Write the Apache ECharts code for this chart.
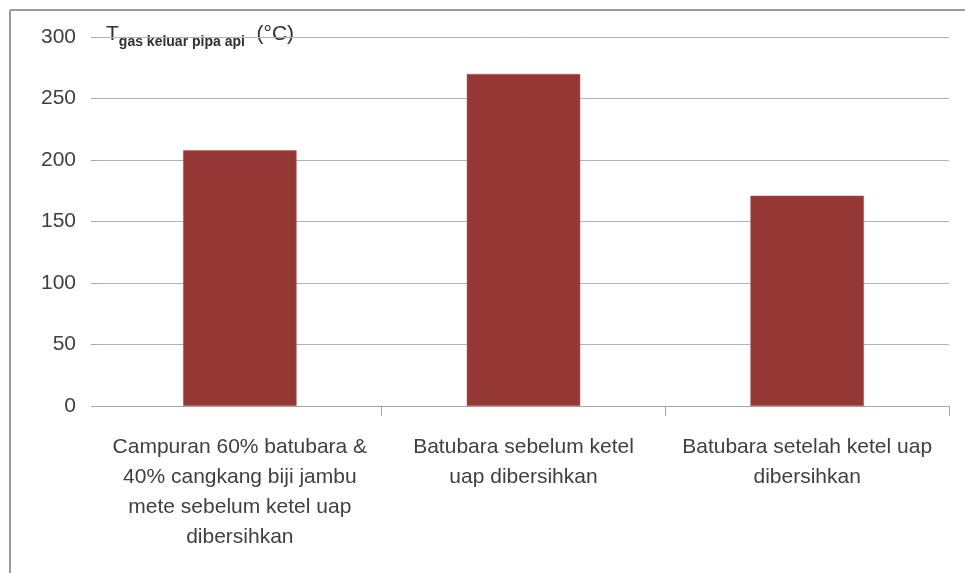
<!DOCTYPE html>
<html>
<head>
<meta charset="utf-8">
<script src="https://cdn.jsdelivr.net/npm/echarts@6/dist/echarts.min.js"></script>
<style>
html, body { margin: 0; padding: 0; background: #fff; }
#chart { width: 965px; height: 573px; }
</style>
</head>
<body>
<div id="chart"></div>
<script>
// kategori bahan bakar (baris dipecah seperti di gambar)
var categories = [
    'Campuran 60% batubara &\n40% cangkang biji jambu\nmete sebelum ketel uap\ndibersihkan',
    'Batubara sebelum ketel\nuap dibersihkan',
    'Batubara setelah ketel uap\ndibersihkan'
];
// suhu gas keluar pipa api (°C)
var suhuGas = [208, 270, 171];
var yTicks = [0, 50, 100, 150, 200, 250, 300];

var chart = echarts.init(document.getElementById('chart'));
var option = {
    backgroundColor: '#ffffff',
    animation: false,
    grid: {
        left: 98,
        right: 16,
        top: 37,
        bottom: 167
    },
    xAxis: {
        type: 'category',
        data: categories,
        axisLine: { lineStyle: { color: '#a6a6a6', width: 1 } },
        axisTick: {
            show: true,
            length: 10,
            lineStyle: { color: '#a6a6a6' },
            interval: function (index) { return index > 0; }
        },
        axisLabel: {
            interval: 0,
            hideOverlap: false,
            color: '#404040',
            fontFamily: 'Liberation Sans',
            fontSize: 21,
            lineHeight: 30,
            margin: 26
        }
    },
    yAxis: {
        type: 'value',
        min: yTicks[0],
        max: yTicks[yTicks.length - 1],
        interval: 50,
        axisLine: { show: false },
        axisTick: { show: true, length: 7, lineStyle: { color: '#a6a6a6' } },
        splitLine: { lineStyle: { color: '#b3b3b3', width: 1 } },
        axisLabel: {
            color: '#404040',
            fontFamily: 'Liberation Sans',
            fontSize: 21,
            margin: 22
        }
    },
    series: [{
        type: 'bar',
        data: suhuGas,
        barWidth: '40%',
        itemStyle: { color: '#953735', borderColor: '#b05a58', borderWidth: 0.5 }
    }],
    graphic: [
        {
            type: 'line',
            shape: { x1: 10, y1: 10, x2: 965, y2: 10 },
            style: { stroke: '#9a9a9a', lineWidth: 2 }
        },
        {
            type: 'line',
            shape: { x1: 10, y1: 10, x2: 10, y2: 573 },
            style: { stroke: '#9a9a9a', lineWidth: 2 }
        },
        {
            type: 'text',
            left: 106,
            top: 24,
            style: {
                text: '{t|T}{s|gas keluar pipa api}{t|  (°C)}',
                rich: {
                    t: { fontFamily: 'Liberation Sans', fontSize: 21, fill: '#303030', verticalAlign: 'top' },
                    s: { fontFamily: 'Liberation Sans', fontSize: 14, fontWeight: 'bold', fill: '#303030', padding: [11, 0, 0, 0] }
                }
            }
        }
    ]
};
chart.setOption(option);
</script>
</body>
</html>
